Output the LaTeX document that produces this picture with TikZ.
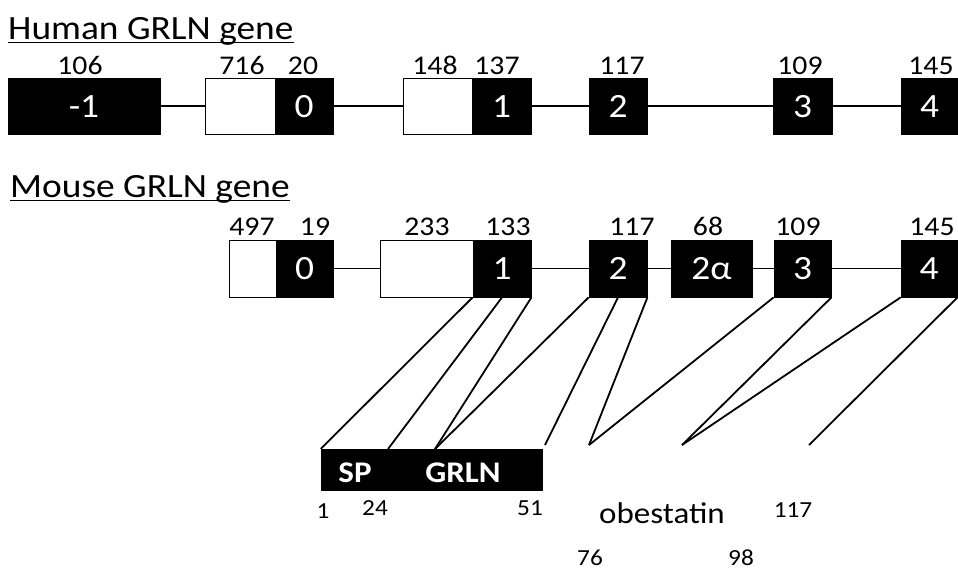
\documentclass[tikz,border=0pt]{standalone}
\usepackage{fontspec}
\setmainfont{Carlito}[FakeStretch=1.1]
\newcommand\setfs[1]{\fontsize{#1}{#1}\selectfont}
\begin{document}
\begin{tikzpicture}[x=1pt,y=-1pt,
  exon/.style={draw=black, fill=black, text=white, inner sep=0pt, line width=0.8pt, font=\setfs{34}, text height=22pt, text depth=0pt},
  utr/.style={draw=black, fill=white, inner sep=0pt, line width=0.8pt},
  num/.style={anchor=base, inner sep=0pt, font=\setfs{27}},
  small/.style={anchor=base, inner sep=0pt, font=\setfs{23}},
  ttl/.style={anchor=base west, inner sep=0pt, font=\setfs{34}},
  intron/.style={line width=1.6pt},
  map/.style={line width=1.8pt}]
\useasboundingbox (0,0) rectangle (958,571);

% ---------- Human ----------
\node[ttl] (htitle) at (8,39) {Human GRLN gene};
\draw[line width=1pt] ([yshift=-3pt]htitle.base west) -- ([yshift=-3pt]htitle.base east);

\node[exon, minimum width=152, minimum height=56] (hm1) at (84,106) {-1};
\node[utr,  minimum width=70,  minimum height=56] (hu0) at (240,106) {};
\node[exon, minimum width=58,  minimum height=56] (he0) at (304,106) {0};
\node[utr,  minimum width=69,  minimum height=56] (hu1) at (437.5,106) {};
\node[exon, minimum width=59,  minimum height=56] (he1) at (501.5,106) {1};
\node[exon, minimum width=58,  minimum height=56] (he2) at (618,106) {2};
\node[exon, minimum width=59,  minimum height=56] (he3) at (802.5,106) {3};
\node[exon, minimum width=56,  minimum height=56] (he4) at (929.5,106) {4};

\draw[intron] (hm1.east) -- (hu0.west);
\draw[intron] (he0.east) -- (hu1.west);
\draw[intron] (he1.east) -- (he2.west);
\draw[intron] (he2.east) -- (he3.west);
\draw[intron] (he3.east) -- (he4.west);

\node[num] (hl1) at (80,74) {106};
\node[num] (hl2) at (242,74) {716};
\node[num] (hl3) at (303,74) {20};
\node[num] (hl4) at (435,74) {148};
\node[num] (hl5) at (497,74) {137};
\node[num] (hl6) at (622,74) {117};
\node[num] (hl7) at (800,74) {109};
\node[num] (hl8) at (931,74) {145};

% ---------- Mouse ----------
\node[ttl] (mtitle) at (10,197) {Mouse GRLN gene};
\draw[line width=1pt] ([yshift=-3pt]mtitle.base west) -- ([yshift=-3pt]mtitle.base east);

\node[utr,  minimum width=47, minimum height=57] (mu0) at (252.5,268.5) {};
\node[exon, minimum width=57, minimum height=57] (me0) at (304.5,268.5) {0};
\node[utr,  minimum width=93, minimum height=57] (mu1) at (426.5,268.5) {};
\node[exon, minimum width=58, minimum height=57] (me1) at (502,268.5) {1};
\node[exon, minimum width=58, minimum height=57] (me2) at (618,268.5) {2};
\node[exon, minimum width=81, minimum height=57] (me2a) at (711.5,268.5) {2α};
\node[exon, minimum width=57, minimum height=57] (me3) at (802.5,268.5) {3};
\node[exon, minimum width=56, minimum height=57] (me4) at (929,268.5) {4};

\draw[intron] (me0.east) -- (mu1.west);
\draw[intron] (me1.east) -- (me2.west);
\draw[intron] (me2.east) -- (me2a.west);
\draw[intron] (me2a.east) -- (me3.west);
\draw[intron] (me3.east) -- (me4.west);

\node[num] (ml1) at (252,235) {497};
\node[num] (ml2) at (315,235) {19};
\node[num] (ml3) at (427,235) {233};
\node[num] (ml4) at (508,235) {133};
\node[num] (ml5) at (632,235) {117};
\node[num] (ml6) at (708,235) {68};
\node[num] (ml7) at (798,235) {109};
\node[num] (ml8) at (932,235) {145};

% ---------- Protein ----------
\node[draw=black, fill=black, inner sep=0pt, minimum width=221, minimum height=41] (bar) at (431.5,469.5) {};
\node[anchor=base, inner sep=0pt, text=white, font=\setfs{30}\bfseries] (sp) at (355,482) {SP};
\node[anchor=base, inner sep=0pt, text=white, font=\setfs{30}\bfseries] (grln) at (463,482) {GRLN};

\coordinate (p24) at (388,449);
\coordinate (p35) at (435,449);
\coordinate (q1) at (545,445);
\coordinate (v1) at (589,445);
\coordinate (v2) at (682,445);
\coordinate (q2) at (809,445);

\draw[map] (me1.south west) -- (bar.north west);
\draw[map] (me1.south) -- (p24);
\draw[map] (me1.south east) -- (p35);
\draw[map] (me2.south west) -- (p35);
\draw[map] (me2.south) -- (q1);
\draw[map] (me2.south east) -- (v1);
\draw[map] (me3.south west) -- (v1);
\draw[map] (me3.south east) -- (v2);
\draw[map] (me4.south west) -- (v2);
\draw[map] (me4.south east) -- (q2);

\node[small] (n1) at (323,518) {1};
\node[small] (n24) at (375,515) {24};
\node[small] (n51) at (530,515) {51};
\node[anchor=base, inner sep=0pt, font=\setfs{30}] (obe) at (662,523) {obestatin};
\node[small] (n117) at (793,517) {117};
\node[small] (n76) at (590,565) {76};
\node[small] (n98) at (741,565) {98};
\end{tikzpicture}
\end{document}
